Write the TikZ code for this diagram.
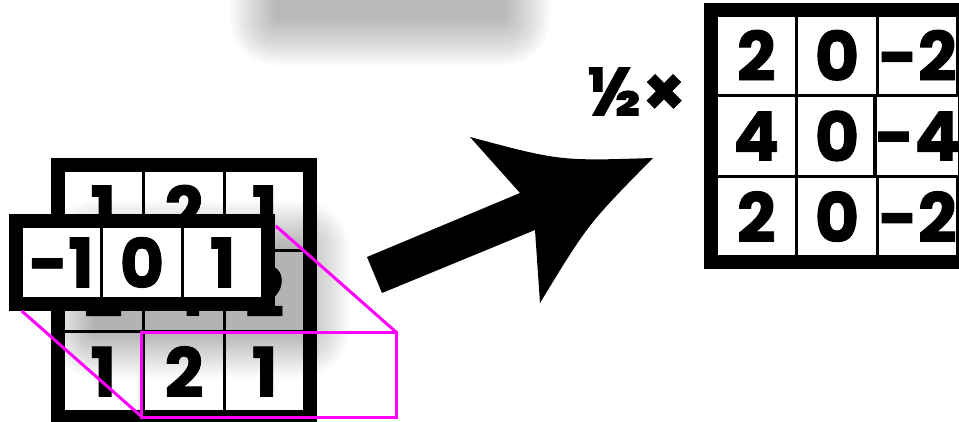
\documentclass[tikz,border=0pt]{standalone}
\usepackage{fontspec}
\setmainfont{Poppins}[BoldFeatures={FakeBold=1.3}]
\usetikzlibrary{positioning,fit,calc}
\definecolor{selpink}{RGB}{255,0,255}

\begin{document}
\begin{tikzpicture}[
  x=1pt, y=-1pt,
  font=\fontsize{68}{68}\selectfont\bfseries,
  mcell/.style={draw=black, fill=white, line width=3.5pt, outer sep=0pt, inner sep=0pt, minimum width=80.67pt, minimum height=80.67pt},
  kcell/.style={mcell, minimum height=73pt},
  matframe/.style={draw=black, line width=12pt, inner sep=6pt, outer sep=0pt},
  softshadow/.style={fill=black, draw=none},
  selbox/.style={draw=selpink, line width=3pt}
]
  \clip (0,0) rectangle (959,421);

  % shadow at the top
  \foreach \s in {0,3,...,45}
    \fill[softshadow, fill opacity=0.019, rounded corners=\s+1] (275-\s,-80-\s) rectangle (505+\s,20+\s);

  % input matrix
  \node[mcell] (g11) at (103.33,210.33) {1};
  \node[mcell] (g12) at (184.00,210.33) {2};
  \node[mcell] (g13) at (264.67,210.33) {1};
  \node[mcell] (g21) at (103.33,291.00) {2};
  \node[mcell] (g22) at (184.00,291.00) {4};
  \node[mcell] (g23) at (264.67,291.00) {2};
  \node[mcell] (g31) at (103.33,371.67) {1};
  \node[mcell] (g32) at (184.00,371.67) {2};
  \node[mcell] (g33) at (264.67,371.67) {1};
  \node[matframe, fit=(g11)(g33)] (gframe) {};

  % shadow of the kernel
  \foreach \s in {0,2.5,...,47.5}
    \fill[softshadow, fill opacity=0.015, rounded corners=\s+1] (95-\s,248-\s) rectangle (302+\s,330+\s);

  % kernel row
  \node[kcell] (k1) at (61.33,262.5) {-1};
  \node[kcell] (k2) at (142.00,262.5) {0};
  \node[kcell] (k3) at (222.67,262.5) {1};
  \node[matframe, fit=(k1)(k3)] (kframe) {};

  % where the kernel goes
  \coordinate (mnw) at ($(kframe.north west)+(127,112)$);
  \coordinate (mne) at ($(kframe.north east)+(127,112)$);
  \coordinate (mse) at ($(kframe.south east)+(127,112)$);
  \coordinate (msw) at ($(kframe.south west)+(127,112)$);
  \draw[selbox] (mnw) rectangle (mse);
  \draw[selbox, shorten <=9pt] (kframe.north east) -- (mne);
  \draw[selbox, shorten <=9pt] (kframe.south west) -- (msw);

  % big arrow
  \fill[black] (367,257) -- (520,193) -- (470,137) .. controls (560,161) .. (653,158)
    .. controls (588,224) .. (540,303) -- (535,230) -- (382,293) -- cycle;

  % result matrix
  \node[mcell] (r11) at (756.33,55.33) {2};
  \node[mcell] (r12) at (837.00,55.33) {0};
  \node[mcell] (r13) at (917.67,55.33) {-2};
  \node[mcell] (r21) at (756.33,136.00) {4};
  \node[mcell] (r22) at (837.00,136.00) {0};
  \node[mcell] (r23) at (917.67,136.00) {-4};
  \node[mcell] (r31) at (756.33,216.67) {2};
  \node[mcell] (r32) at (837.00,216.67) {0};
  \node[mcell] (r33) at (917.67,216.67) {-2};
  \node[matframe, fit=(r11)(r33)] (rframe) {};
  \node[anchor=east, inner sep=0pt] (half) at (686,91.5) {½×};
\end{tikzpicture}
\end{document}
